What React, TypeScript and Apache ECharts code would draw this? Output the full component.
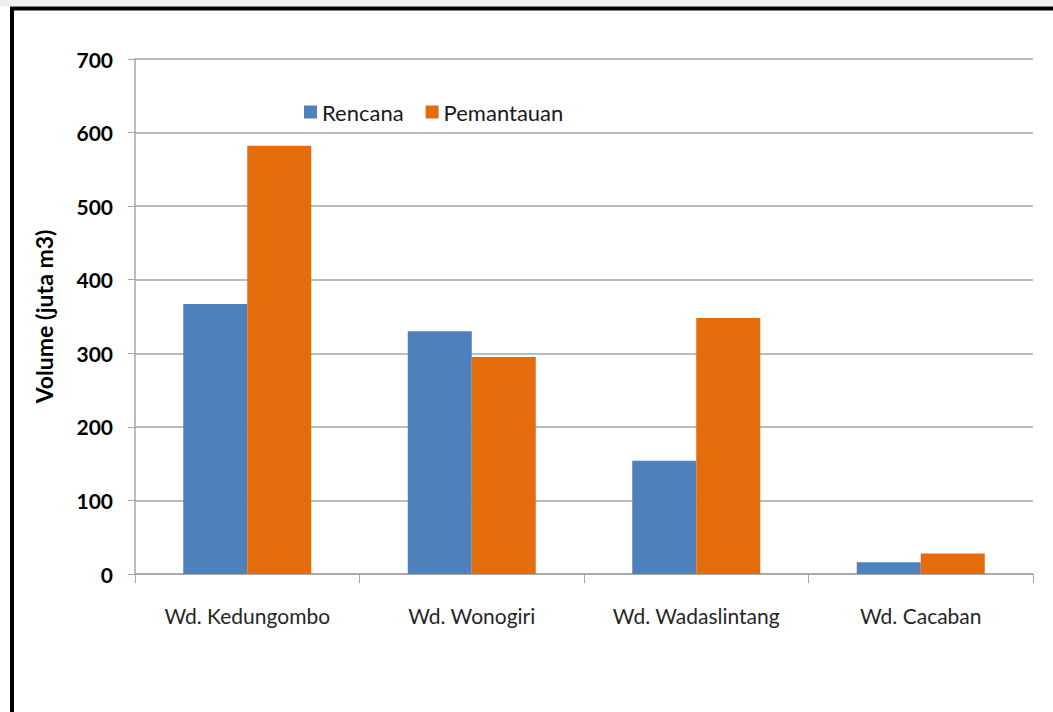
import React, { useEffect, useRef } from "react";
import * as echarts from "echarts";

const categories = ["Wd. Kedungombo", "Wd. Wonogiri", "Wd. Wadaslintang", "Wd. Cacaban"];
const rencana = [367, 330, 154, 16];
const pemantauan = [582, 295, 348, 28];
const yTicks = [0, 100, 200, 300, 400, 500, 600, 700];

const FONT = "Lato, 'Open Sans', sans-serif";

export default function App() {
  const ref = useRef<HTMLDivElement>(null);
  useEffect(() => {
    if (!ref.current) return;
    const chart = echarts.init(ref.current, undefined, { renderer: "svg" });
    chart.setOption({
      animation: false,
      backgroundColor: "#ffffff",
      textStyle: { fontFamily: FONT },
      graphic: [
        { type: "rect", shape: { x: 0, y: 0, width: 1053, height: 6 }, style: { fill: "#efefef" }, silent: true },
        {
          type: "rect",
          shape: { x: 12, y: 8.5, width: 1100, height: 760 },
          style: { fill: "none", stroke: "#000000", lineWidth: 4 },
          silent: true,
          z: 100,
        },
      ],
      legend: {
        left: 299,
        top: 96,
        itemWidth: 13,
        itemHeight: 13,
        itemGap: 22,
        icon: "rect",
        textStyle: { fontSize: 22, color: "#1a1a1a", fontFamily: FONT },
        data: ["Rencana", "Pemantauan"],
      },
      grid: { left: 135, right: 20, top: 59, bottom: 138, containLabel: false },
      xAxis: {
        type: "category",
        data: categories,
        axisLine: { show: true, lineStyle: { color: "#a6a6a6", width: 1.5 } },
        axisTick: { show: true, length: 9, alignWithLabel: false, lineStyle: { color: "#a6a6a6" } },
        axisLabel: { fontSize: 21, color: "#262626", margin: 31, fontFamily: FONT },
      },
      yAxis: {
        type: "value",
        min: 0,
        max: 700,
        interval: 100,
        name: "Volume (juta m3)",
        nameLocation: "middle",
        nameGap: 80,
        nameTextStyle: { fontSize: 23, fontWeight: "bold", color: "#000000", fontFamily: FONT },
        axisLine: { show: true, lineStyle: { color: "#a6a6a6", width: 1.5 } },
        axisTick: { show: true, length: 7, lineStyle: { color: "#a6a6a6" } },
        axisLabel: {
          fontSize: 21,
          fontWeight: "bold",
          color: "#000000",
          margin: 22,
          fontFamily: FONT,
          formatter: (v: number) => (yTicks.includes(v) ? String(v) : ""),
        },
        splitLine: { show: true, lineStyle: { color: "#a6a6a6", width: 1.5 } },
      },
      series: [
        {
          name: "Rencana",
          type: "bar",
          data: rencana,
          barWidth: 64,
          barGap: "0%",
          itemStyle: { color: "#4f81bd" },
        },
        {
          name: "Pemantauan",
          type: "bar",
          data: pemantauan,
          barWidth: 64,
          barGap: "0%",
          itemStyle: { color: "#e46c0a" },
        },
      ],
    });
    return () => chart.dispose();
  }, []);
  return (
    <div
      ref={ref}
      style={{ position: "absolute", left: 0, top: 0, width: 1053, height: 712 }}
    />
  );
}
